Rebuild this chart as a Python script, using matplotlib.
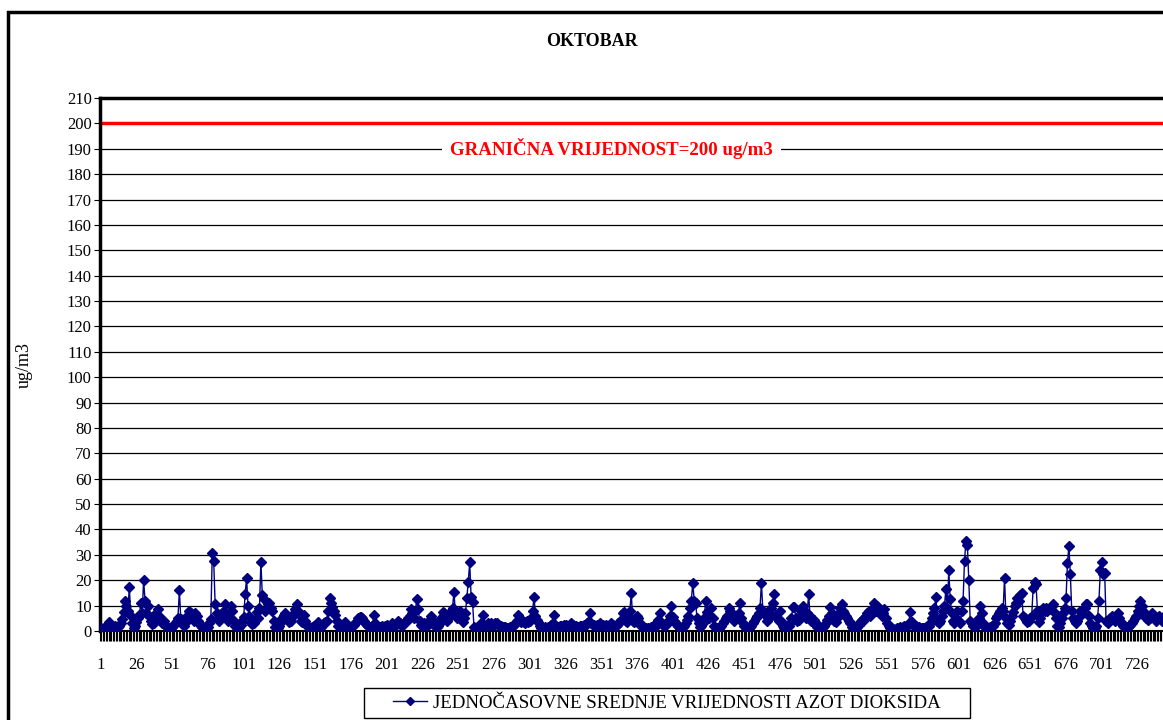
import numpy as np
import matplotlib
matplotlib.use("Agg")
import matplotlib.pyplot as plt
from matplotlib.patches import Rectangle

plt.rcParams["font.family"] = ["Liberation Serif", "DejaVu Serif"]

# hourly NO2 means, October (31 days x 24 h)
day01 = [1, 0.5, 1, 1.5, 1, 2, 3.7, 2, 1, 1.5, 2, 1, 1.5, 2, 3, 4.7, 7.3, 12, 10, 8, 17.3, 6, 3, 1.3]
day02 = [2, 3.5, 5, 6.4, 11, 7, 20, 12, 7, 9.8, 6, 4, 2.6, 3, 5, 7, 8.6, 6, 4, 3, 3.8, 2.5, 1.5, 1]
day03 = [1, 1, 1.5, 2.5, 3, 4, 5, 16, 4.7, 3, 2, 3, 5, 6.5, 8, 7, 5.5, 4, 7, 6, 4, 3, 2, 1.5]
day04 = [1, 0.8, 1, 1.5, 3, 4.7, 30.7, 27.7, 10.7, 7, 5, 3.8, 5, 7, 8, 10.7, 5, 4, 6, 10, 8, 4, 2, 1]
day05 = [1, 1.5, 2.5, 4, 5.6, 14.7, 20.8, 10, 6, 3, 2.6, 3, 4.5, 7.3, 5, 9, 27.3, 14, 12.5, 8, 9, 10.8, 11, 9]
day06 = [8, 4, 1.5, 1, 1, 2, 3.5, 5, 6.5, 7, 6, 4.5, 3.5, 4, 5.5, 7, 8.5, 10.5, 8, 6.5, 4, 3.5, 6.4, 4]
day07 = [2.5, 1.5, 1, 1, 1.5, 2, 1.5, 2.5, 3.6, 2, 1.5, 2, 3, 3.5, 4, 8, 13.1, 11, 9.5, 8, 6.5, 4, 2, 1.5]
day08 = [1, 1.5, 2, 3.6, 2.5, 1.5, 1, 1.5, 2, 2.5, 3, 4, 5, 5.5, 5.7, 5, 4, 3, 2.5, 2, 1.5, 1.5, 2, 6.5]
day09 = [3, 1.5, 1, 1.5, 1.5, 2, 1.5, 2, 2.5, 2, 1.5, 2, 3, 2.5, 2, 3, 4, 3, 2.5, 2, 3, 3.5, 4, 5]
day10 = [6, 8.5, 7, 5, 8, 12.5, 8.5, 4, 2.5, 2, 3, 2.5, 2, 3.5, 4.5, 6, 4, 2.5, 2, 1.5, 2, 3, 5, 7.5]
day11 = [7, 5, 4, 5, 6, 8, 9, 15.5, 7, 5, 6, 8, 5, 3.5, 5, 7, 13, 19.2, 27, 13.5, 11.5, 1.5, 1, 1]
day12 = [1.5, 2, 3, 6.3, 2.5, 2, 2.5, 3, 2.5, 3, 2.5, 2.5, 3, 3, 2.5, 2, 2, 1.5, 1.5, 1.5, 1, 1, 1.5, 1.5]
day13 = [2, 2.5, 3, 4, 6.3, 4, 3.5, 3.8, 3.5, 3, 3.8, 3.5, 4, 5, 8, 13.5, 6, 4.5, 3.5, 2, 1, 1, 1, 1.5]
day14 = [1, 1.5, 2, 2.5, 3, 6.3, 2.5, 1.5, 1.5, 2, 2, 2, 2.5, 2.5, 2, 2, 2.5, 3, 2.5, 2, 2, 1.5, 1.5, 2]
day15 = [2, 2, 2.5, 2.5, 3, 3.5, 7, 3, 2.5, 2.5, 2, 2.5, 2.5, 3, 2.5, 2.5, 2, 2.5, 2, 2, 2.5, 3, 2.5, 2]
day16 = [2, 2.5, 3, 3.5, 4.5, 7, 7.5, 4, 3.5, 5, 8, 15, 4, 3.5, 5, 6, 5, 3, 2, 1.5, 1, 1, 0.8, 1]
day17 = [1, 1.5, 2, 1.5, 2, 3, 4.5, 7, 3.5, 2.5, 2, 2.5, 3, 4, 6, 10, 5.5, 4, 3, 2.5, 2, 1, 1, 1.5]
day18 = [2, 3, 4.5, 6, 9, 12, 19, 12, 11, 5, 3, 1.5, 2, 3, 5, 12, 7.5, 5, 6, 9, 5, 2, 1, 1]
day19 = [1, 1.5, 2, 3, 4, 5, 6, 9, 8, 7, 5, 4, 6, 5.5, 7, 11, 5, 3, 2, 1, 1, 1, 1.5, 2]
day20 = [3, 4, 5, 6, 7, 9, 19, 8, 7, 6, 4, 5, 7, 9, 11, 14.5, 6, 5, 4, 8, 4, 2, 1, 1]
day21 = [1.5, 2, 3, 5, 9.5, 9.5, 5, 4, 4.5, 6, 8, 10, 6, 5, 7, 14.5, 6, 4, 3.5, 4.5, 3, 1.5, 1, 1]
day22 = [1, 1.5, 2, 3, 4.5, 6, 9.5, 7, 6, 4, 3.5, 5, 7, 9, 10.5, 8, 7, 6, 5, 4, 3, 1.5, 1, 1]
day23 = [1, 1.5, 2.5, 3.5, 4.5, 4, 5, 6, 7, 8, 6, 7, 9, 11, 8, 10, 9, 7, 6, 7, 8.5, 5, 3, 2]
day24 = [1, 1, 0.8, 0.5, 0.8, 1, 1, 1.5, 1, 1.5, 2, 1.5, 2, 3, 7.5, 3.5, 2.5, 2, 2, 1.5, 1.5, 1, 1, 1]
day25 = [1, 1.5, 1.5, 2, 3, 5, 7, 9, 13.5, 4, 3, 4, 6, 8, 10, 16.5, 9, 24, 12.5, 7, 4, 3, 5, 8]
day26 = [4, 3, 8, 12, 27.5, 35.5, 34, 20, 4, 3, 2, 1.5, 2, 3, 5, 10, 7, 3, 1.5, 1, 1, 1, 1.5, 2]
day27 = [2, 3, 5, 6, 7, 8, 9, 8, 21, 5, 3, 2.5, 4, 6, 7.5, 10, 11, 13, 12, 14, 15, 6, 5, 4.5]
day28 = [3.5, 4, 5, 6, 17, 19.4, 18.5, 8, 3.5, 5, 8, 9, 8, 9, 8, 8.5, 9, 10, 10.5, 7, 5, 2, 1.5, 3]
day29 = [5, 7, 9, 13, 26.8, 33.5, 22.5, 7.8, 5, 4, 3, 4, 5.5, 8, 7, 8.5, 9, 10.5, 10.5, 6, 3, 2, 1, 1]
day30 = [2, 5, 12, 24, 27, 22.5, 23, 4, 3, 4, 5, 6, 5, 4, 6, 7, 5, 3.5, 3, 2, 1.5, 1, 1.5, 2]
day31 = [2.5, 3, 4, 5, 6, 8, 10, 12, 10, 8, 6, 5, 4.5, 6, 5, 7, 6, 5, 4, 5, 6, 5, 4, 5.5]

days = [day01, day02, day03, day04, day05, day06, day07, day08, day09, day10,
        day11, day12, day13, day14, day15, day16, day17, day18, day19, day20,
        day21, day22, day23, day24, day25, day26, day27, day28, day29, day30, day31]
values = [v for d in days for v in d]
hours = np.arange(1, len(values) + 1)

limit = 200
tick_labels = list(range(1, 744, 25))

fig = plt.figure(figsize=(11.63, 7.2), dpi=100)
# outer chart-area frame (cut off at right and bottom in the original)
fig.patches.append(Rectangle((8 / 1163, -0.1), 1.2, (708 + 72) / 720, transform=fig.transFigure,
                             fill=False, edgecolor="black", linewidth=2.5))

ax = fig.add_axes([100 / 1163, 89 / 720, 1064 / 1163, 533 / 720])
ax.plot(hours, values, color="#000080", linewidth=1, marker="D", markersize=5,
        markerfacecolor="#000080", markeredgecolor="#000080",
        label="JEDNOČASOVNE SREDNJE VRIJEDNOSTI AZOT DIOKSIDA", zorder=3)
ax.axhline(limit, color="#ff0000", linewidth=2.5, zorder=2)

ax.set_xlim(0.5, len(values) + 0.5)
ax.set_ylim(0, 210)
ax.set_yticks(range(0, 211, 10))
ax.yaxis.grid(True, color="black", linewidth=0.9)
ax.set_axisbelow(True)
ax.set_xticks(tick_labels)
ax.set_xticks(np.arange(0.5, len(values) + 1, 1), minor=True)
ax.tick_params(axis="x", which="major", length=0, labelsize=12, pad=19)
ax.tick_params(axis="x", which="minor", length=7, width=0.8, color="black")
ax.tick_params(axis="y", length=4, labelsize=12, pad=2)

for s in ["top", "left"]:
    ax.spines[s].set_linewidth(2.5)
ax.spines["bottom"].set_linewidth(1.5)
ax.spines["right"].set_visible(False)

ax.set_ylabel("ug/m3", fontsize=13)
ax.yaxis.set_label_coords(-67 / 1064, 0.5)
fig.text(592 / 1163, 1 - 42 / 720, "OKTOBAR", ha="center", va="center",
         fontsize=13, fontweight="bold")

ax.text(358, 190, "GRANIČNA VRIJEDNOST=200 ug/m3", color="#ff0000", fontsize=13.6,
        fontweight="bold", ha="center", va="center", zorder=4,
        bbox=dict(facecolor="white", edgecolor="none", pad=6))

leg = fig.legend(loc="center left", bbox_to_anchor=(393 / 1163, 1 - 703 / 720), fontsize=13.6,
                 frameon=False, borderpad=0, borderaxespad=0,
                 handlelength=1.8, handletextpad=0.3, markerscale=0.8)
fig.patches.append(Rectangle((364 / 1163, 2 / 720), 606 / 1163, 30 / 720, transform=fig.transFigure,
                             fill=False, edgecolor="black", linewidth=1))

fig.savefig("out.png", dpi=100)
